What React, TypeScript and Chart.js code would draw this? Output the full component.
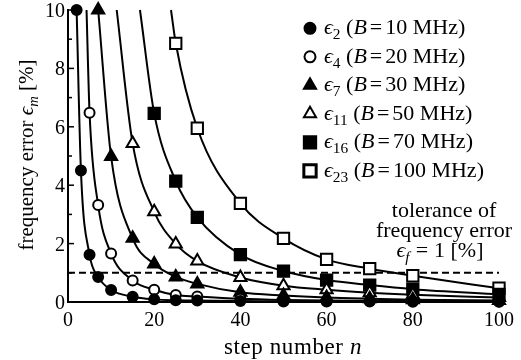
import React, { useEffect, useRef } from 'react';
import { Chart, registerables } from 'chart.js';

Chart.register(...registerables);

// ---- data ----
const xTicks = [0, 20, 40, 60, 80, 100];
const yTicks = [0, 2, 4, 6, 8, 10];

// first entry of n4/n11/n16/n23 is where the curve leaves the top of the plot (no marker there)
const n2 = [2, 3, 5, 7, 10, 15, 20, 25, 30, 40, 50, 60, 70, 80, 100];
const e2 = [10, 4.5, 1.62, 0.86, 0.41, 0.18, 0.09, 0.06, 0.05, 0.03, 0.02, 0.02, 0.02, 0.01, 0.01];

const n4 = [4.3, 5, 7, 10, 15, 20, 25, 30, 40, 50, 60, 70, 80, 100];
const e4 = [10, 6.48, 3.32, 1.66, 0.74, 0.42, 0.24, 0.19, 0.11, 0.07, 0.05, 0.04, 0.03, 0.02];

const n7 = [7, 10, 15, 20, 25, 30, 40, 50, 60, 70, 80, 100];
const e7 = [10, 4.98, 2.18, 1.3, 0.86, 0.62, 0.33, 0.22, 0.15, 0.11, 0.08, 0.05];

const n11 = [11.3, 15, 20, 25, 30, 40, 50, 60, 70, 80, 100];
const e11 = [10, 5.43, 3.09, 1.99, 1.4, 0.84, 0.56, 0.42, 0.32, 0.25, 0.15];

const n16 = [16.7, 20, 25, 30, 40, 50, 60, 70, 80, 100];
const e16 = [10, 6.46, 4.14, 2.9, 1.62, 1.06, 0.75, 0.58, 0.44, 0.26];

const n23 = [23.9, 25, 30, 40, 50, 60, 70, 80, 100];
const e23 = [10, 8.86, 5.95, 3.38, 2.18, 1.46, 1.14, 0.9, 0.47];

const tolerance = 1;

type Seg = { t: string; it?: boolean; sub?: boolean; pad?: number };

const bw = ['10', '20', '30', '50', '70', '100'];
const idx = ['2', '4', '7', '11', '16', '23'];
const labels: Seg[][] = idx.map((k, i) => [
  { t: '\u03F5', it: true },
  { t: k, sub: true },
  { t: ' (' },
  { t: 'B', it: true },
  { t: '=', pad: 3 },
  { t: `${bw[i]} MHz)` },
]);

const FONT = '"Liberation Serif", "DejaVu Serif", serif';

function segFont(s: Seg, size: number) {
  const sz = s.sub ? size * 0.7 : size;
  return `${s.it ? 'italic ' : ''}${sz}px ${FONT}`;
}
function segW(ctx: CanvasRenderingContext2D, s: Seg, size: number) {
  ctx.font = segFont(s, size);
  return ctx.measureText(s.t).width + 2 * (s.pad || 0);
}
function drawRich(ctx: CanvasRenderingContext2D, segs: Seg[], x: number, y: number, size: number, align: string, spacing = 0) {
  const anyCtx = ctx as any;
  const prevLS = anyCtx.letterSpacing;
  if ('letterSpacing' in anyCtx) anyCtx.letterSpacing = `${spacing}px`;
  let w = 0;
  for (const s of segs) w += segW(ctx, s, size);
  let cx = align === 'center' ? x - w / 2 : align === 'right' ? x - w : x;
  ctx.textAlign = 'left';
  ctx.textBaseline = 'alphabetic';
  ctx.fillStyle = '#000';
  for (const s of segs) {
    ctx.font = segFont(s, size);
    ctx.fillText(s.t, cx + (s.pad || 0), y + (s.sub ? size * 0.22 : 0));
    cx += ctx.measureText(s.t).width + 2 * (s.pad || 0);
  }
  if ('letterSpacing' in anyCtx) anyCtx.letterSpacing = prevLS || '0px';
}

type Style = { shape: 'circle' | 'triangle' | 'rect'; filled: boolean; r: number };
const styles: Style[] = [
  { shape: 'circle', filled: true, r: 5 },
  { shape: 'circle', filled: false, r: 5 },
  { shape: 'triangle', filled: true, r: 7 },
  { shape: 'triangle', filled: false, r: 7 },
  { shape: 'rect', filled: true, r: 8 },
  { shape: 'rect', filled: false, r: 8 },
];

function drawMarker(ctx: CanvasRenderingContext2D, st: Style, x: number, y: number) {
  ctx.save();
  ctx.beginPath();
  if (st.shape === 'circle') {
    ctx.arc(x, y, st.r + 0.5, 0, Math.PI * 2);
  } else if (st.shape === 'triangle') {
    const r = st.r;
    ctx.moveTo(x, y - r);
    ctx.lineTo(x + r * Math.sin((2 * Math.PI) / 3), y - r * Math.cos((2 * Math.PI) / 3));
    ctx.lineTo(x + r * Math.sin((4 * Math.PI) / 3), y - r * Math.cos((4 * Math.PI) / 3));
    ctx.closePath();
  } else {
    const h = st.r * Math.SQRT1_2 + 0.5;
    ctx.rect(x - h, y - h, 2 * h, 2 * h);
  }
  ctx.fillStyle = st.filled ? '#000' : '#fff';
  ctx.fill();
  ctx.lineWidth = st.shape === 'rect' && !st.filled ? 3 : 2;
  ctx.strokeStyle = '#000';
  ctx.stroke();
  ctx.restore();
}

const series = [
  { xs: n2, ys: e2, cross: false },
  { xs: n4, ys: e4, cross: true },
  { xs: n7, ys: e7, cross: false },
  { xs: n11, ys: e11, cross: true },
  { xs: n16, ys: e16, cross: true },
  { xs: n23, ys: e23, cross: true },
];

const overlay = {
  id: 'overlay',
  afterDraw(chart: any) {
    const ctx: CanvasRenderingContext2D = chart.ctx;
    const xs = chart.scales.x;
    const ys = chart.scales.y;
    const area = chart.chartArea;
    ctx.save();
    // inward ticks
    ctx.strokeStyle = '#000';
    ctx.lineWidth = 1.5;
    for (let v = 1; v <= 10; v++) {
      const py = ys.getPixelForValue(v);
      ctx.beginPath();
      ctx.moveTo(area.left, py);
      ctx.lineTo(area.left + (v % 2 === 0 ? 6 : 4), py);
      ctx.stroke();
    }
    for (const v of xTicks) {
      const px = xs.getPixelForValue(v);
      ctx.beginPath();
      ctx.moveTo(px, area.bottom);
      ctx.lineTo(px, area.bottom - 5);
      ctx.stroke();
    }
    // tick labels
    ctx.fillStyle = '#000';
    ctx.font = `20px ${FONT}`;
    ctx.textBaseline = 'alphabetic';
    ctx.textAlign = 'center';
    for (const v of xTicks) {
      ctx.fillText(String(v), xs.getPixelForValue(v), 326);
    }
    ctx.textAlign = 'right';
    for (const v of yTicks) {
      ctx.fillText(String(v), area.left - 3, ys.getPixelForValue(v) + 7);
    }
    // axis titles
    drawRich(ctx, [{ t: 'step number ' }, { t: 'n', it: true }], 293, 354, 23, 'center', 0.6);
    ctx.save();
    ctx.translate(33, 155);
    ctx.rotate(-Math.PI / 2);
    drawRich(ctx, [{ t: 'frequency error ' }, { t: '\u03F5', it: true }, { t: 'm', it: true, sub: true }, { t: ' [%]' }], 0, 0, 21, 'center');
    ctx.restore();
    // legend
    for (let i = 0; i < labels.length; i++) {
      const cy = 28.3 + i * 28.5;
      drawMarker(ctx, styles[i], 310, cy);
      drawRich(ctx, labels[i], 324, cy + 6, 22, 'left');
    }
    // tolerance annotation
    drawRich(ctx, [{ t: 'tolerance of' }], 444, 217, 22, 'center');
    drawRich(ctx, [{ t: 'frequency error' }], 444, 237, 22, 'center');
    drawRich(
      ctx,
      [{ t: '\u03F5', it: true }, { t: 'f', it: true, sub: true }, { t: '=', pad: 6 }, { t: '1 [%]' }],
      440,
      257,
      22,
      'center'
    );
    ctx.restore();
  },
};

export default function App() {
  const ref = useRef<HTMLCanvasElement>(null);
  useEffect(() => {
    document.body.style.margin = '0';
    const datasets: any[] = series.map((s, i) => {
      const st = styles[i];
      return {
        data: s.xs.map((x, k) => ({ x, y: s.ys[k] })),
        borderColor: '#000',
        borderWidth: 2,
        backgroundColor: st.filled ? '#000' : '#fff',
        pointStyle: st.shape,
        pointRadius: s.xs.map((_, k) => (s.cross && k === 0 ? 0 : st.r)),
        pointBorderWidth: 2,
        pointBorderColor: '#000',
        pointBackgroundColor: st.filled ? '#000' : '#fff',
        cubicInterpolationMode: 'monotone',
        fill: false,
        clip: false,
      };
    });
    datasets.push({
      data: [
        { x: xTicks[0], y: tolerance },
        { x: xTicks[xTicks.length - 1], y: tolerance },
      ],
      borderColor: '#000',
      borderWidth: 2,
      borderDash: [7, 4],
      pointRadius: 0,
      fill: false,
      order: 10,
    });
    const chart = new Chart(ref.current!, {
      type: 'line',
      data: { datasets },
      options: {
        animation: false,
        responsive: false,
        devicePixelRatio: 1,
        layout: { padding: { top: 10, right: 22, left: 0, bottom: 0 } },
        plugins: { legend: { display: false }, tooltip: { enabled: false } },
        scales: {
          x: {
            type: 'linear',
            min: 0,
            max: 100,
            grid: { display: false },
            ticks: { display: false },
            border: { display: true, color: '#000', width: 2 },
            afterFit: (s: any) => {
              s.height = 58;
            },
          },
          y: {
            type: 'linear',
            min: 0,
            max: 10,
            grid: { display: false },
            ticks: { display: false },
            border: { display: true, color: '#000', width: 2 },
            afterFit: (s: any) => {
              s.width = 68;
            },
          },
        },
      },
      plugins: [overlay],
    });
    return () => chart.destroy();
  }, []);
  return (
    <div style={{ width: 521, height: 360, background: '#fff' }}>
      <canvas ref={ref} width={521} height={360} style={{ display: 'block', width: 521, height: 360 }} />
    </div>
  );
}
